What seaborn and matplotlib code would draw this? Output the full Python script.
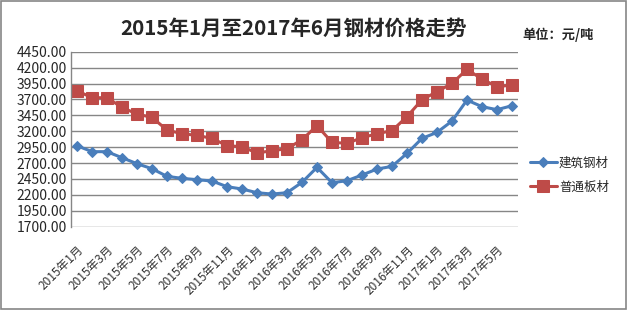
import matplotlib
matplotlib.use("Agg")
import matplotlib.pyplot as plt
import seaborn as sns
import pandas as pd
import numpy as np
from matplotlib.patches import Rectangle

months = [f"{y}年{m}月" for y in (2015, 2016, 2017) for m in range(1, 13)][:30]

rebar = [2973, 2879, 2879, 2784, 2690, 2611, 2491, 2460, 2439, 2418,
         2329, 2292, 2234, 2213, 2234, 2397, 2632, 2391, 2423, 2512,
         2606, 2648, 2852, 3088, 3182, 3360, 3690, 3586, 3539, 3601]
plate = [3837, 3727, 3727, 3575, 3470, 3418, 3219, 3161, 3135, 3088,
         2973, 2957, 2858, 2894, 2926, 3067, 3287, 3025, 3010, 3099,
         3161, 3209, 3429, 3696, 3821, 3952, 4172, 4020, 3900, 3926]
series_names = ["建筑钢材", "普通板材"]
yticks = [1700, 1950, 2200, 2450, 2700, 2950, 3200, 3450, 3700, 3950, 4200, 4450]

sns.set_style("white")
plt.rcParams['font.family'] = ['Noto Sans CJK SC', 'DejaVu Sans']

df = pd.DataFrame({"idx": np.arange(len(months)), "month": months,
                   series_names[0]: rebar, series_names[1]: plate})

fig = plt.figure(figsize=(6.27, 3.10), dpi=100)
ax = fig.add_axes([71/627, 1-226.7/310, 447/627, 175/310])

blue = "#4A7EBB"
red = "#BE4B48"
sns.lineplot(data=df, x="idx", y=series_names[0], ax=ax, color=blue, lw=2.2,
             marker="D", markersize=5.5, markeredgecolor=blue, label=series_names[0])
sns.lineplot(data=df, x="idx", y=series_names[1], ax=ax, color=red, lw=2.2,
             marker="s", markersize=8, markeredgecolor=red, label=series_names[1])

ax.set_xlim(-0.4, 29.4)
ax.set_ylim(1700, 4450)
ax.set_yticks(yticks)
ax.set_yticklabels([f"{v:.2f}" for v in yticks], fontsize=10)
ax.set_xticks(df["idx"][::2])
ax.set_xticklabels(df["month"][::2], rotation=45, ha="right",
                   rotation_mode="anchor", fontsize=8.5, color="#333333")
ax.tick_params(axis="x", length=0, pad=12)
ax.tick_params(axis="y", length=0, pad=3)
ax.set_xlabel("")
ax.set_ylabel("")
ax.grid(axis="y", color="#868686", lw=1)
ax.set_axisbelow(True)
for s in ["top", "right", "bottom"]:
    ax.spines[s].set_visible(False)
ax.spines["left"].set_color("#868686")
ax.spines["left"].set_linewidth(1)

leg = ax.legend(loc="center left", bbox_to_anchor=(519/627, 1-175/310),
                bbox_transform=fig.transFigure, frameon=False, fontsize=9,
                handlelength=2.1, handletextpad=0.2, labelspacing=0.9)

fig.text(294/627, 1-28/310, "2015年1月至2017年6月钢材价格走势", ha="center",
         va="center", fontsize=14.8, fontweight="bold")
fig.text(522/627, 1-35/310, "单位：元/吨", ha="left", va="center",
         fontsize=9.5, fontweight="bold")

fig.patches.append(Rectangle((1/627, 1/310), 1-2/627, 1-2/310, transform=fig.transFigure,
                             fill=False, edgecolor="#868686", lw=1.2))

fig.savefig("out.png", dpi=100)
